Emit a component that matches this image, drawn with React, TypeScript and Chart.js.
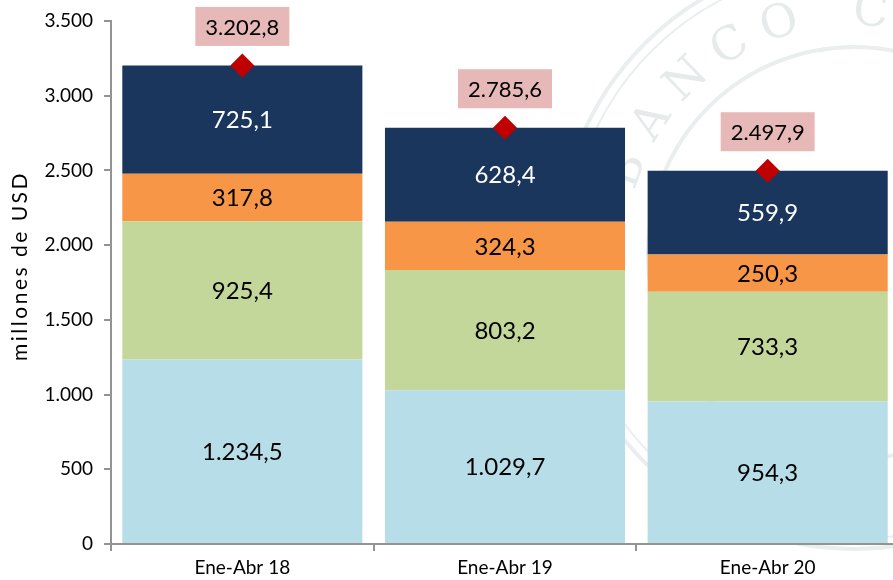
import React, { useEffect, useRef } from "react";
import { Chart, registerables } from "chart.js";

Chart.register(...registerables);

const categories = ["Ene-Abr 18", "Ene-Abr 19", "Ene-Abr 20"];
const serieA = [1234.5, 1029.7, 954.3];
const serieB = [925.4, 803.2, 733.3];
const serieC = [317.8, 324.3, 250.3];
const serieD = [725.1, 628.4, 559.9];
const totals = [3202.8, 2785.6, 2497.9];
const yTicks = [0, 500, 1000, 1500, 2000, 2500, 3000, 3500];
const yTitle = "millones de USD";
const sealText = "BANCO CENTRAL";

const FONT = "Lato, 'Open Sans', sans-serif";

function fmt(v: number, dec: number): string {
  const s = v.toFixed(dec);
  const [ip, dp] = s.split(".");
  const withDots = ip.replace(/\B(?=(\d{3})+(?!\d))/g, ".");
  return dp !== undefined ? withDots + "," + dp : withDots;
}

const watermarkPlugin = {
  id: "watermark",
  beforeDraw(chart: any) {
    const ctx = chart.ctx;
    const cx = 854;
    const cy = 253;
    ctx.save();
    ctx.strokeStyle = "#eaeeee";
    ctx.lineWidth = 4;
    ctx.beginPath();
    ctx.arc(cx, cy, 296, 0, Math.PI * 2);
    ctx.stroke();
    ctx.lineWidth = 2;
    ctx.beginPath();
    ctx.arc(cx, cy, 286, 0, Math.PI * 2);
    ctx.stroke();
    ctx.lineWidth = 4;
    ctx.beginPath();
    ctx.arc(cx, cy, 206, 0, Math.PI * 2);
    ctx.stroke();
    ctx.fillStyle = "#e6eaea";
    ctx.font = "46px 'DejaVu Serif', 'Liberation Serif', serif";
    ctx.textAlign = "center";
    ctx.textBaseline = "middle";
    let ang = 200;
    for (const ch of sealText) {
      if (ch === " ") {
        ang += 9;
        continue;
      }
      const a = (ang * Math.PI) / 180;
      ctx.save();
      ctx.translate(cx + 240 * Math.cos(a), cy + 240 * Math.sin(a));
      ctx.rotate(a + Math.PI / 2);
      ctx.fillText(ch, 0, 0);
      ctx.restore();
      ang += 13;
    }
    ctx.restore();
  },
};

const labelPlugin = {
  id: "labels",
  afterDatasetsDraw(chart: any) {
    const ctx = chart.ctx;
    ctx.save();
    ctx.textAlign = "center";
    ctx.textBaseline = "middle";
    chart.data.datasets.forEach((ds: any, di: number) => {
      const meta = chart.getDatasetMeta(di);
      if (ds.type === "line") {
        meta.data.forEach((el: any, i: number) => {
          const txt = fmt(ds.data[i], 1);
          ctx.font = `22px ${FONT}`;
          const w = ctx.measureText(txt).width + 20;
          const h = 39;
          const cy = el.y - 39;
          ctx.fillStyle = "#e6b8b7";
          ctx.fillRect(el.x - w / 2, cy - h / 2, w, h);
          ctx.fillStyle = "#000000";
          ctx.fillText(txt, el.x, cy + 1);
        });
      } else {
        meta.data.forEach((el: any, i: number) => {
          const txt = fmt(ds.data[i], 1);
          ctx.font = `24px ${FONT}`;
          ctx.fillStyle = ds.labelColor || "#000";
          ctx.fillText(txt, el.x, (el.y + el.base) / 2 + 1);
        });
      }
    });
    // y-axis title
    ctx.save();
    ctx.translate(20, 266);
    ctx.rotate(-Math.PI / 2);
    ctx.font = `21px ${FONT}`;
    try {
      (ctx as any).letterSpacing = "2.5px";
    } catch (e) {}
    ctx.fillStyle = "#000";
    ctx.fillText(yTitle, 0, 0);
    ctx.restore();
    ctx.restore();
  },
};

export default function App() {
  const ref = useRef<HTMLCanvasElement>(null);
  useEffect(() => {
    if (!ref.current) return;
    const axisColor = "#939393";
    const chart = new Chart(ref.current, {
      type: "bar",
      data: {
        labels: categories,
        datasets: [
          {
            type: "line",
            label: "Total",
            data: totals,
            showLine: false,
            pointStyle: "rectRot",
            pointRadius: 12,
            pointBackgroundColor: "#c00000",
            pointBorderColor: "#c00000",
            pointBorderWidth: 0,
            order: 0,
          } as any,
          { label: "A", data: serieA, backgroundColor: "#b7dde8", labelColor: "#000", order: 1 } as any,
          { label: "B", data: serieB, backgroundColor: "#c4d79b", labelColor: "#000", order: 1 } as any,
          { label: "C", data: serieC, backgroundColor: "#f79646", labelColor: "#000", order: 1 } as any,
          { label: "D", data: serieD, backgroundColor: "#1b365d", labelColor: "#ffffff", order: 1 } as any,
        ],
      },
      options: {
        animation: false,
        responsive: false,
        layout: { autoPadding: false, padding: { top: 21, right: 0, left: 0, bottom: 0 } } as any,
        plugins: { legend: { display: false }, tooltip: { enabled: false } },
        datasets: { bar: { barPercentage: 1, categoryPercentage: 0.914 } } as any,
        scales: {
          x: {
            stacked: true,
            grid: {
              display: true,
              drawOnChartArea: false,
              drawTicks: true,
              tickLength: 7,
              color: axisColor,
              lineWidth: 2,
              offset: true,
            },
            border: { display: true, color: axisColor, width: 2 },
            ticks: { color: "#000", font: { family: FONT, size: 19 }, padding: 5, maxRotation: 0 },
            afterFit: (s: any) => {
              s.height = 36;
              s.paddingLeft = 0;
              s.paddingRight = 0;
            },
          },
          y: {
            stacked: true,
            min: 0,
            max: 3500,
            afterBuildTicks: (s: any) => {
              s.ticks = yTicks.map((v) => ({ value: v }));
            },
            grid: {
              display: true,
              drawOnChartArea: false,
              drawTicks: true,
              tickLength: 7,
              color: axisColor,
              lineWidth: 2,
            },
            border: { display: true, color: axisColor, width: 2 },
            ticks: {
              color: "#000",
              font: { family: FONT, size: 19 },
              padding: 11,
              callback: (v: any) => fmt(Number(v), 0),
            },
            afterFit: (s: any) => {
              s.width = 111;
              s.paddingTop = 0;
              s.paddingBottom = 0;
            },
          },
        },
      },
      plugins: [watermarkPlugin, labelPlugin],
    });
    return () => chart.destroy();
  }, []);
  return (
    <div style={{ position: "absolute", left: 0, top: 0, width: 893, height: 580, overflow: "hidden", background: "#fff" }}>
      <canvas ref={ref} width={899} height={580} style={{ width: 899, height: 580, display: "block" }} />
    </div>
  );
}
